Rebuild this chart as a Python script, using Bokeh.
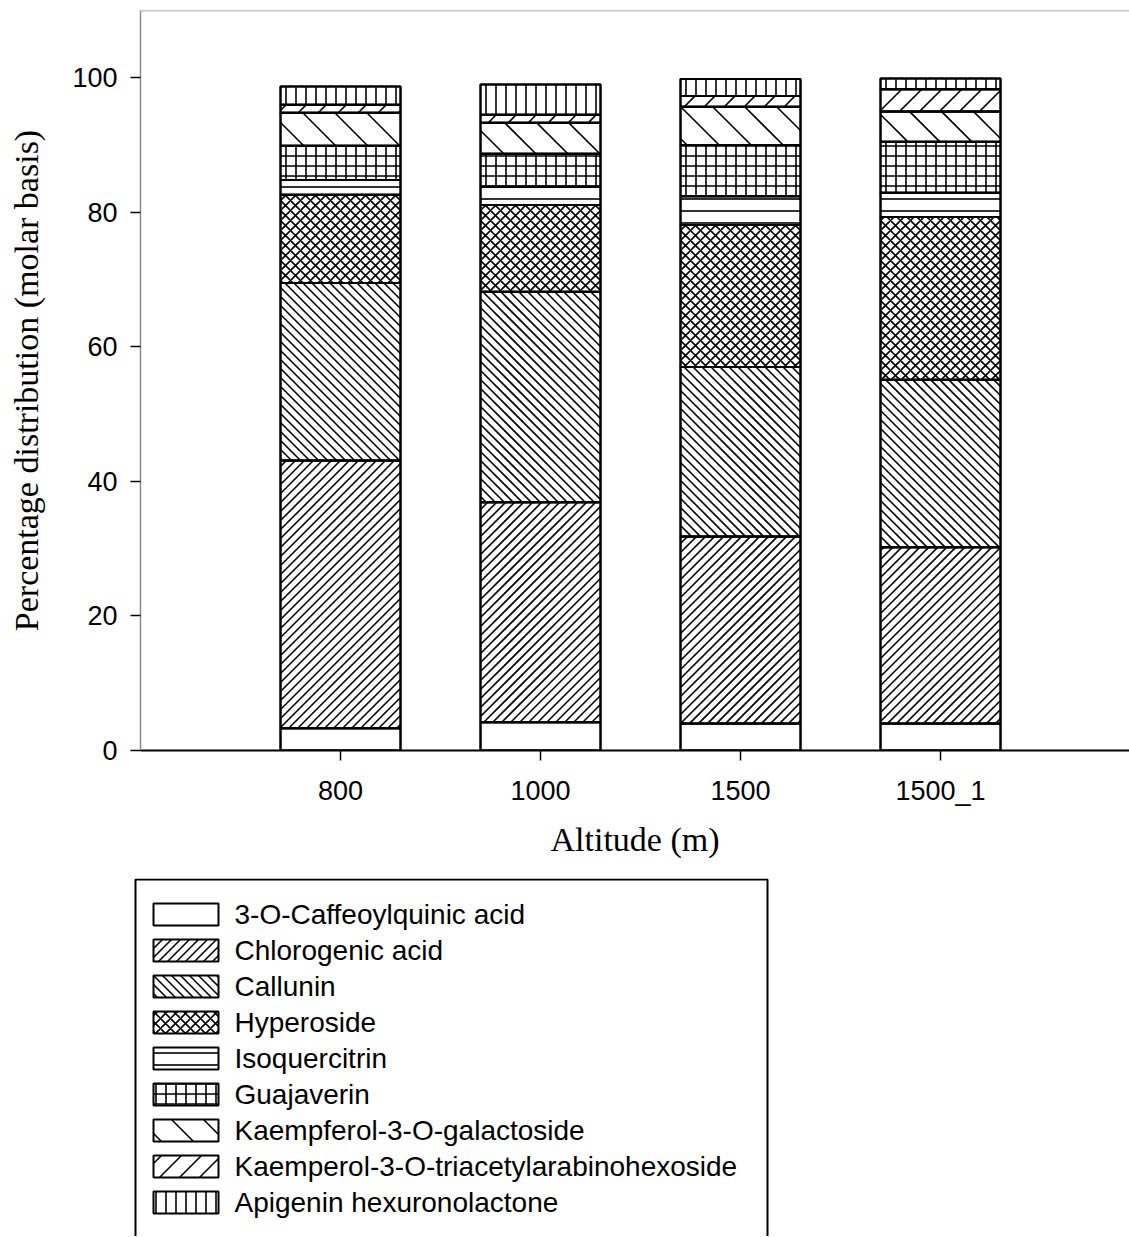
import math
from bokeh.plotting import figure
from bokeh.models import ColumnDataSource, Range1d, FixedTicker, Span, BoxAnnotation
from bokeh.core.properties import value
from bokeh.layouts import column
from bokeh.embed import file_html
from bokeh.resources import INLINE

# ---------------- data ----------------
categories = ["800", "1000", "1500", "1500_1"]
compounds = [
    "3-O-Caffeoylquinic acid",
    "Chlorogenic acid",
    "Callunin",
    "Hyperoside",
    "Isoquercitrin",
    "Guajaverin",
    "Kaempferol-3-O-galactoside",
    "Kaemperol-3-O-triacetylarabinohexoside",
    "Apigenin hexuronolactone",
]
caffeoylquinic = [3.3, 4.2, 4.0, 4.0]
chlorogenic = [39.8, 32.7, 27.8, 26.2]
callunin = [26.4, 31.3, 25.2, 24.9]
hyperoside = [13.1, 12.9, 21.1, 24.2]
isoquercitrin = [2.2, 2.7, 4.3, 3.6]
guajaverin = [5.1, 4.9, 7.6, 7.6]
kaempferol_gal = [4.9, 4.6, 5.7, 4.5]
kaemperol_tri = [1.2, 1.2, 1.6, 3.3]
apigenin = [2.7, 4.5, 2.5, 1.6]
y_ticks = [0, 20, 40, 60, 80, 100]

series = [caffeoylquinic, chlorogenic, callunin, hyperoside, isoquercitrin,
          guajaverin, kaempferol_gal, kaemperol_tri, apigenin]

# ---------------- styles ----------------
SANS = "Liberation Sans"
SERIF = "Liberation Serif"
# built-in hatches (diagonal single-direction hatches are drawn as 45 degree lines below)
builtin_hatch = [" ", " ", " ", "x", "-", "+", " ", " ", "|"]
builtin_scale = [12, 12, 12, 10, 12, 10, 12, 12, 10]
diag_dir = [None, "/", "\\", None, None, None, "\\", "/", None]
diag_space = [0, 9, 9, 0, 0, 0, 32, 20, 0]
HATCH_W = 1.6

FIG_W, TOP_H, LEG_H = 1129, 878, 358
MB_L, MB_T, MB_B = 140, 10, 128
X_END, Y_END = 4.945, 110


def diag_segments(x0, x1, y0, y1, s, direction):
    """45-degree hatch lines clipped to the rectangle (pixel units, y up)."""
    out = []
    if direction == "/":          # y = x - c
        k0, k1 = math.ceil((x0 - y1) / s), math.floor((x1 - y0) / s)
        for k in range(k0, k1 + 1):
            c = k * s
            xa, xb = max(x0, y0 + c), min(x1, y1 + c)
            if xb > xa:
                out.append((xa, xa - c, xb, xb - c))
    else:                         # y = -x + c
        k0, k1 = math.ceil((x0 + y0) / s), math.floor((x1 + y1) / s)
        for k in range(k0, k1 + 1):
            c = k * s
            xa, xb = max(x0, c - y1), min(x1, c - y0)
            if xb > xa:
                out.append((xa, c - xa, xb, c - xb))
    return out


keys = [f"s{i}" for i in range(len(series))]
xpos = [i + 1 for i in range(len(categories))]
data = {"x": xpos}
for k, vals in zip(keys, series):
    data[k] = vals
src = ColumnDataSource(data)
BAR_W = 0.6

# ---------------- main chart ----------------
p = figure(width=FIG_W, height=TOP_H, x_range=Range1d(0, X_END), y_range=Range1d(0, Y_END),
           output_backend="svg", toolbar_location=None,
           min_border_left=MB_L, min_border_right=0, min_border_top=MB_T, min_border_bottom=MB_B)
p.grid.visible = False
p.outline_line_color = None
p.background_fill_color = "white"
p.border_fill_color = "white"

p.vbar_stack(keys, x="x", source=src, width=BAR_W, fill_color="white",
             line_color="black", line_width=2,
             hatch_pattern=builtin_hatch, hatch_scale=builtin_scale,
             hatch_weight=HATCH_W, hatch_color="black")

# 45-degree hatch lines, computed from the stacked values through the plot's pixel scale
kx = (FIG_W - MB_L) / X_END
ky = (TOP_H - MB_T - MB_B) / Y_END
seg = {"x0": [], "y0": [], "x1": [], "y1": []}
for bi, xc in enumerate(xpos):
    base = 0.0
    for li, vals in enumerate(series):
        bottom, top = base, base + vals[bi]
        base = top
        if diag_dir[li] is None:
            continue
        for (a, b, c, d) in diag_segments((xc - BAR_W / 2) * kx, (xc + BAR_W / 2) * kx,
                                          bottom * ky, top * ky, diag_space[li], diag_dir[li]):
            seg["x0"].append(a / kx); seg["y0"].append(b / ky)
            seg["x1"].append(c / kx); seg["y1"].append(d / ky)
p.segment(x0="x0", y0="y0", x1="x1", y1="y1", source=ColumnDataSource(seg),
          line_color="black", line_width=HATCH_W)
# re-draw the bar outlines on top of the hatch lines
p.vbar_stack(keys, x="x", source=src, width=BAR_W, fill_color=None,
             line_color="black", line_width=2)

p.add_layout(Span(location=Y_END, dimension="width", line_color="#8a8a8a", line_width=1.5))

ya = p.yaxis[0]
ya.ticker = FixedTicker(ticks=y_ticks)
ya.axis_line_color = "#8a8a8a"
ya.axis_line_width = 1.5
ya.major_tick_line_color = "black"
ya.major_tick_line_width = 1.5
ya.major_tick_out = 10
ya.major_tick_in = 0
ya.minor_tick_line_color = None
ya.major_label_text_font = SANS
ya.major_label_text_font_size = "27px"
ya.major_label_text_color = "black"
ya.major_label_standoff = 13
ya.axis_label = "Percentage distribution (molar basis)"
ya.axis_label_text_font = SERIF
ya.axis_label_text_font_size = "34px"
ya.axis_label_text_font_style = "normal"
ya.axis_label_text_color = "black"
ya.axis_label_standoff = 24

xa = p.xaxis[0]
xa.ticker = FixedTicker(ticks=xpos)
xa.major_label_overrides = {x: c for x, c in zip(xpos, categories)}
xa.axis_line_color = "black"
xa.axis_line_width = 2
xa.major_tick_line_color = "black"
xa.major_tick_line_width = 1.5
xa.major_tick_out = 10
xa.major_tick_in = 0
xa.minor_tick_line_color = None
xa.major_label_text_font = SANS
xa.major_label_text_font_size = "27px"
xa.major_label_text_color = "black"
xa.major_label_standoff = 15
xa.axis_label = "Altitude (m)"
xa.axis_label_text_font = SERIF
xa.axis_label_text_font_size = "34px"
xa.axis_label_text_font_style = "normal"
xa.axis_label_text_color = "black"
xa.axis_label_standoff = 12

# ---------------- legend panel ----------------
# if the layout can be told not to align plot frames, the legend frame spans the
# whole width (page pixels 0..FIG_W); otherwise it is aligned with the chart frame.
unaligned = "frame_align" in p.properties()
if unaligned:
    p.frame_align = False
x_lo = 0 if unaligned else MB_L
p2 = figure(width=FIG_W, height=LEG_H, x_range=Range1d(x_lo, FIG_W), y_range=Range1d(0, LEG_H),
            output_backend="svg", toolbar_location=None,
            x_axis_location=None, y_axis_location=None,
            min_border_left=0, min_border_right=0, min_border_top=0, min_border_bottom=0)
if unaligned:
    p2.frame_align = False
p2.grid.visible = False
p2.outline_line_color = None
p2.background_fill_color = "white"
p2.border_fill_color = "white"

BOX_L, BOX_R = 135, 767
SW_L, SW_W, SW_H = 153, 65, 22
TXT_X = 234
FIRST, PITCH = 36, 36
n = len(compounds)
item_y = [LEG_H - (FIRST + PITCH * i) for i in range(n)]

sw = ColumnDataSource({"x": [SW_L + SW_W / 2] * n, "y": item_y,
                       "hp": builtin_hatch, "hs": builtin_scale})
p2.rect(x="x", y="y", width=SW_W, height=SW_H, source=sw, fill_color="white",
        line_color=None, hatch_pattern="hp", hatch_scale="hs",
        hatch_weight=HATCH_W, hatch_color="black")
lseg = {"x0": [], "y0": [], "x1": [], "y1": []}
for i in range(n):
    if diag_dir[i] is None:
        continue
    for (a, b, c, d) in diag_segments(SW_L, SW_L + SW_W, item_y[i] - SW_H / 2,
                                      item_y[i] + SW_H / 2, diag_space[i], diag_dir[i]):
        lseg["x0"].append(a); lseg["y0"].append(b)
        lseg["x1"].append(c); lseg["y1"].append(d)
p2.segment(x0="x0", y0="y0", x1="x1", y1="y1", source=ColumnDataSource(lseg),
           line_color="black", line_width=HATCH_W)
p2.rect(x="x", y="y", width=SW_W, height=SW_H, source=sw, fill_color=None,
        line_color="black", line_width=2)
p2.text(x=[TXT_X] * n, y=item_y, text=compounds, text_font=value(SANS),
        text_font_size="28px", text_color="black", text_baseline="middle", text_align="left")
p2.add_layout(BoxAnnotation(left=BOX_L, right=BOX_R, top=LEG_H - 1, bottom=-40,
                            fill_color=None, fill_alpha=0, line_color="black",
                            line_alpha=1, line_width=2))

layout = column(p, p2, spacing=0)
open("out.html", "w").write(file_html(layout, INLINE))
